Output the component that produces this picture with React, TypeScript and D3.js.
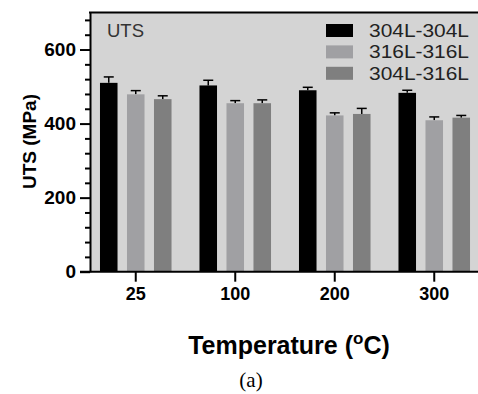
import React, { useEffect, useRef } from 'react';
import * as d3 from 'd3';

// temperatures (°C) on the x axis
const temps = ['25', '100', '200', '300'];
const series = ['304L-304L', '316L-316L', '304L-316L'];
const colors = ['#000000', '#a0a0a3', '#7f7f7f'];

// UTS mean values (MPa), one array per series, in temps order
const uts304 = [510, 503, 490, 483];
const uts316 = [479, 455, 422, 409];
const utsMix = [466, 455, 426, 416];
// standard deviation (error bar heights)
const err304 = [16, 14, 8, 7];
const err316 = [10, 7, 7, 9];
const errMix = [9, 9, 15, 6];

const yMajor = [0, 200, 400, 600];

export default function App() {
  const svgRef = useRef<SVGSVGElement>(null);

  useEffect(() => {
    if (!svgRef.current) return;
    const svg = d3.select(svgRef.current);
    svg.selectAll('*').remove();

    const left = 90, top = 12.5, bottom = 271.7, right = 484;
    const font = "'Liberation Sans', Arial, sans-serif";

    const y = d3.scaleLinear().domain([0, 700]).range([bottom, top]);
    const x0 = d3.scaleBand<string>().domain(temps).range([86, 484]).padding(0);
    const x1 = d3.scaleBand<string>().domain(series).range([0, 81]).paddingInner(0.35).paddingOuter(0.175);

    // plot background
    svg.append('rect')
      .attr('x', left).attr('y', top)
      .attr('width', right - left).attr('height', bottom - top)
      .attr('fill', '#d4d4d4');

    const values = [uts304, uts316, utsMix];
    const errs = [err304, err316, errMix];

    series.forEach((s, si) => {
      const g = svg.append('g');
      temps.forEach((t, ti) => {
        const cx0 = x0(t)! + (x0.bandwidth() - 81) / 2;
        const bx = cx0 + x1(s)!;
        const v = values[si][ti];
        const e = errs[si][ti];
        const mid = bx + x1.bandwidth() / 2;
        g.append('line')
          .attr('x1', mid).attr('x2', mid)
          .attr('y1', y(v)).attr('y2', y(v + e))
          .attr('stroke', '#000').attr('stroke-width', 1.5);
        g.append('line')
          .attr('x1', mid - 5).attr('x2', mid + 5)
          .attr('y1', y(v + e)).attr('y2', y(v + e))
          .attr('stroke', '#000').attr('stroke-width', 1.5);
        g.append('rect')
          .attr('x', bx).attr('y', y(v))
          .attr('width', x1.bandwidth()).attr('height', bottom - y(v))
          .attr('fill', colors[si]);
      });
    });

    // top frame
    svg.append('line')
      .attr('x1', left - 1).attr('x2', right)
      .attr('y1', top).attr('y2', top)
      .attr('stroke', '#000').attr('stroke-width', 2);

    // y axis: minor ticks then major
    const yMinor = d3.range(40, 700, 40).filter(v => v % 200 !== 0);
    const yMinorAxis = svg.append('g')
      .attr('transform', `translate(${left},0)`)
      .call(d3.axisLeft(y).tickValues(yMinor).tickSize(5).tickFormat(() => ''));
    yMinorAxis.select('.domain').remove();
    yMinorAxis.selectAll('line').attr('stroke-width', 2);

    const yAxis = svg.append('g')
      .attr('transform', `translate(${left},0)`)
      .call(d3.axisLeft(y).tickValues(yMajor).tickSize(10).tickPadding(4).tickSizeOuter(0));
    yAxis.select('.domain').attr('stroke-width', 2);
    yAxis.selectAll('line').attr('stroke-width', 2);
    yAxis.selectAll('text')
      .attr('font-family', font).attr('font-size', 19).attr('font-weight', 'bold')
      .attr('fill', '#000');

    // x axis
    const xAxis = svg.append('g')
      .attr('transform', `translate(0,${bottom})`)
      .call(d3.axisBottom(x0).tickSize(10).tickSizeOuter(0).tickPadding(6));
    xAxis.select('.domain').attr('d', `M${left - 10},0H${right}`).attr('stroke-width', 2);
    xAxis.selectAll('line').attr('stroke-width', 2);
    xAxis.selectAll('text')
      .attr('font-family', font).attr('font-size', 18).attr('font-weight', 'bold')
      .attr('fill', '#000');

    // panel label
    svg.append('text')
      .attr('x', 107).attr('y', 37)
      .attr('font-family', font).attr('font-size', 18.5)
      .attr('fill', '#333')
      .text('UTS');

    // legend
    const legend = svg.append('g');
    series.forEach((s, i) => {
      const ly = 24 + i * 21.4;
      legend.append('rect')
        .attr('x', 326).attr('y', ly)
        .attr('width', 27).attr('height', 13)
        .attr('fill', colors[i]);
      legend.append('text')
        .attr('x', 369).attr('y', ly + 13)
        .attr('font-family', font).attr('font-size', 17.5)
        .attr('textLength', 100).attr('lengthAdjust', 'spacingAndGlyphs')
        .attr('fill', '#222')
        .text(s);
    });

    // y axis title
    svg.append('text')
      .attr('transform', 'translate(36,141.5) rotate(-90)')
      .attr('text-anchor', 'middle')
      .attr('font-family', font).attr('font-size', 19).attr('font-weight', 'bold')
      .text('UTS (MPa)');

    // x axis title
    const xt = svg.append('text')
      .attr('x', 289).attr('y', 354)
      .attr('text-anchor', 'middle')
      .attr('font-family', font).attr('font-size', 25).attr('font-weight', 'bold');
    xt.append('tspan').text('Temperature (');
    xt.append('tspan').attr('font-size', 17).attr('dy', -10).text('o');
    xt.append('tspan').attr('dy', 10).text('C)');

    // caption
    svg.append('text')
      .attr('x', 251).attr('y', 387)
      .attr('text-anchor', 'middle')
      .attr('font-family', "'Liberation Serif', 'Times New Roman', serif")
      .attr('font-size', 21)
      .text('(a)');
  }, []);

  return (
    <div style={{ position: 'absolute', left: 0, top: 0, background: '#fff' }}>
      <svg ref={svgRef} width={478} height={394} style={{ display: 'block' }} />
    </div>
  );
}
